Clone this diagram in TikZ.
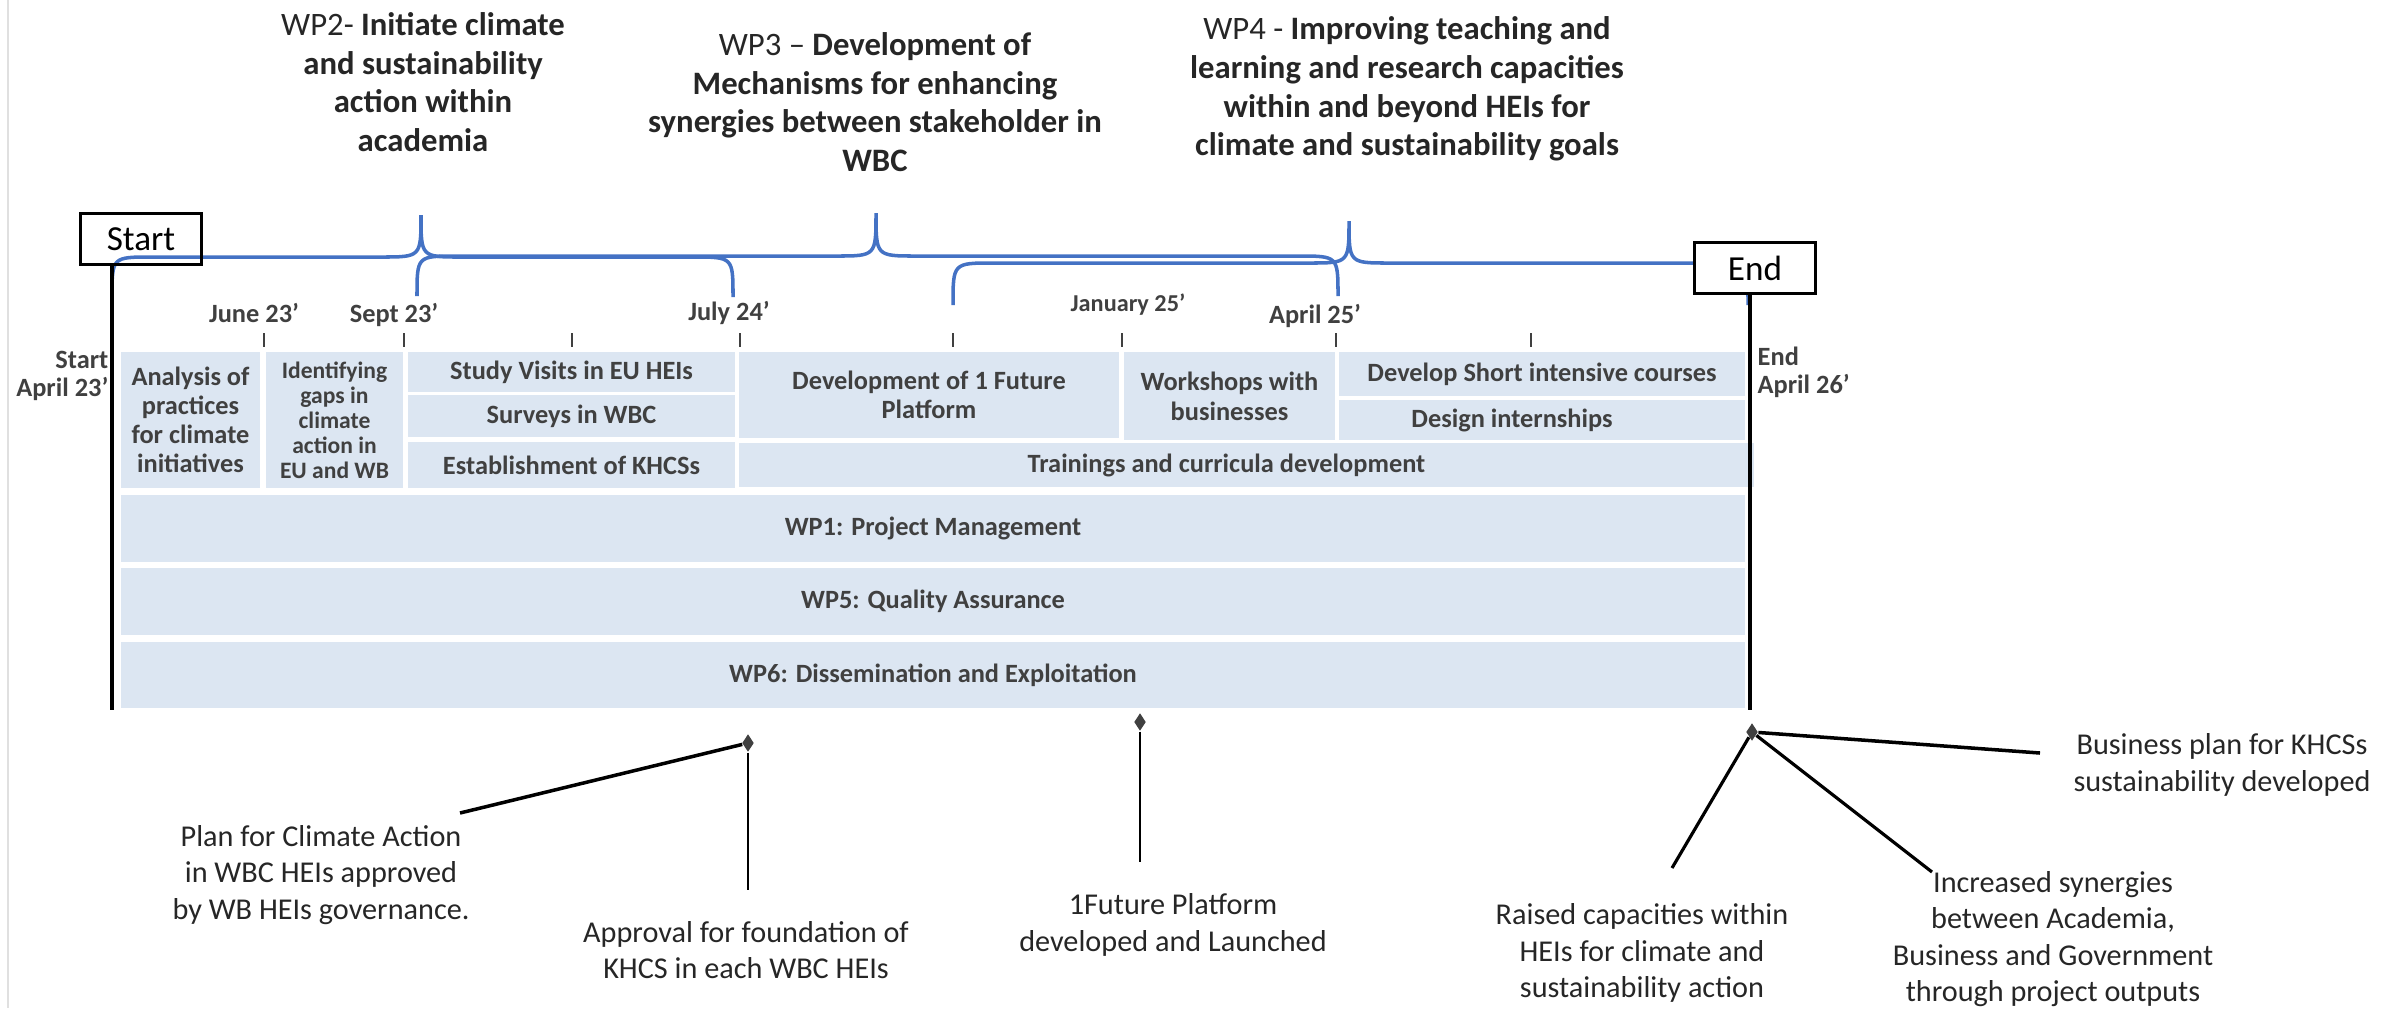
\documentclass[tikz,border=0pt]{standalone}
\usepackage{fontspec}
\setmainfont{Carlito}
\usepackage{tikz}
\usetikzlibrary{shapes.geometric}
\definecolor{taskblue}{HTML}{DCE6F2}
\definecolor{braceblue}{HTML}{4472C4}
\definecolor{textgray}{HTML}{404040}
\definecolor{titlegray}{HTML}{262626}
\tikzset{
	task/.style={fill=taskblue, inner sep=0pt, align=center, text=textgray, font=\fontsize{7.5}{8.3}\selectfont\bfseries},
	wp title/.style={align=center, text=titlegray, font=\fontsize{9.3}{11}\selectfont},
	date label/.style={text=textgray, inner sep=0pt, font=\fontsize{7.5}{8}\selectfont\bfseries},
	tick mark/.style={draw=textgray, line width=0.6pt},
	brace/.style={draw=braceblue, line width=1pt},
	phase box/.style={draw, line width=1pt, fill=white, font=\fontsize{10}{12}\selectfont, minimum width=1.21cm, minimum height=0.51cm},
	milestone/.style={diamond, fill=textgray, inner sep=0pt, minimum width=0.12cm, minimum height=0.18cm},
	outcome/.style={align=center, text=titlegray, inner sep=0pt, font=\fontsize{8.6}{10.4}\selectfont},
	link/.style={draw=black, line width=0.7pt}
}

\begin{document}
\begin{tikzpicture}[x=0.01cm, y=-0.01cm]
	\useasboundingbox (0,0) rectangle (2394,1008);
	\draw[black!12] (8,0) -- (8,1008);

	\node[wp title] (wptwo) at (423,82) {WP2- \textbf{Initiate climate}\\\textbf{and sustainability}\\\textbf{action within}\\\textbf{academia}};
	\node[wp title] (wpthree) at (875,102) {WP3 – \textbf{Development of}\\\textbf{Mechanisms for enhancing}\\\textbf{synergies between stakeholder in}\\\textbf{WBC}};
	\node[wp title] (wpfour) at (1407,89) {WP4 - \textbf{Improving teaching and}\\\textbf{learning and research capacities}\\\textbf{within and beyond HEIs for}\\\textbf{climate and sustainability goals}};

	\node[task, minimum width=1.39cm, minimum height=1.36cm] (analysis) at (190.5,420) {Analysis of\\practices\\for climate\\initiatives};
	\node[task, minimum width=1.37cm, minimum height=1.36cm, font=\fontsize{6.7}{7.1}\selectfont\bfseries] (gaps) at (334.5,420) {Identifying\\gaps in\\climate\\action in\\EU and WB};
	\node[task, minimum width=3.27cm, minimum height=0.40cm] (visits) at (571.5,372) {Study Visits in EU HEIs};
	\node[task, minimum width=3.27cm, minimum height=0.42cm] (surveys) at (571.5,416) {Surveys in WBC};
	\node[task, minimum width=3.27cm, minimum height=0.46cm] (khcs) at (571.5,465) {Establishment of KHCSs};
	\node[task, minimum width=3.80cm, minimum height=0.86cm] (platform) at (929,395) {Development of 1 Future\\Platform};
	\node[task, minimum width=2.11cm, minimum height=0.88cm, font=\fontsize{7.5}{8.6}\selectfont\bfseries] (workshops) at (1229.5,396) {Workshops with\\businesses};
	\node[task, minimum width=4.06cm, minimum height=0.44cm] (courses) at (1542,374) {Develop Short intensive courses};
	\node[task, minimum width=4.06cm, minimum height=0.40cm] (internships) at (1542,420) {Design internships\hspace{0.6cm}};
	\node[task, minimum width=10.15cm, minimum height=0.44cm] (trainings) at (1246.5,465) {Trainings and curricula development\hspace{0.4cm}};
	\node[task, minimum width=16.24cm, minimum height=0.67cm] (wpone) at (933,528.5) {WP1: Project Management};
	\node[task, minimum width=16.24cm, minimum height=0.67cm] (wpfive) at (933,601.5) {WP5: Quality Assurance};
	\node[task, minimum width=16.24cm, minimum height=0.66cm] (wpsix) at (933,675) {WP6: Dissemination and Exploitation};

	\foreach \x in {264,404,572,740,953,1122,1336,1531}
		\draw[tick mark] (\x,333) -- (\x,347);
	\node[date label] (june) at (254,313) {June 23’};
	\node[date label] (sept) at (394,315) {Sept 23’};
	\node[date label] (july) at (729,313) {July 24’};
	\node[date label, font=\fontsize{6.9}{8}\selectfont\bfseries] (january) at (1128,305) {January 25’};
	\node[date label] (april) at (1315,316) {April 25’};
	\node[date label, anchor=east, align=right] (startdate) at (109,376) {Start\\April 23’};
	\node[date label, anchor=west, align=left] (enddate) at (1757,372) {End\\April 26’};

	\draw[brace] (112,297) .. controls (112,257) .. (152,257) -- (381,257) .. controls (421,257) .. (421,215)
		.. controls (421,257) .. (461,257) -- (693,257) .. controls (733,257) .. (733,297);
	\draw[brace] (417,296) .. controls (417,256) .. (457,256) -- (836,256) .. controls (876,256) .. (876,213)
		.. controls (876,256) .. (916,256) -- (1298,256) .. controls (1338,256) .. (1338,296);
	\draw[brace] (953,305) .. controls (953,263) .. (993,263) -- (1309,263) .. controls (1349,263) .. (1349,221)
		.. controls (1349,263) .. (1389,263) -- (1708,263) .. controls (1748,263) .. (1748,305);

	\node[phase box, fill=none] (start) at (141,239) {Start};
	\node[phase box] (end) at (1755,268) {End};
	\coordinate (startfoot) at (112,710);
	\coordinate (endfoot) at (1750,710);
	\draw[line width=0.9pt] (startfoot |- start.south) -- (startfoot);
	\draw[line width=0.9pt] (endfoot |- end.south) -- (endfoot);

	\node[milestone] (mone) at (748,743) {};
	\node[milestone] (mtwo) at (1140,722) {};
	\node[milestone] (mthree) at (1752,732) {};
	\coordinate (planend) at (460,813);
	\coordinate (approvalend) at (748,890);
	\coordinate (futureend) at (1140,862);
	\coordinate (businessend) at (2040,753);
	\coordinate (raisedend) at (1672,868);
	\coordinate (synergyend) at (1932,872);
	\draw[link, line width=1pt] (mone) -- (planend);
	\draw[link] (mone) -- (approvalend);
	\draw[link] (mtwo) -- (futureend);
	\draw[link, line width=1pt] (mthree) -- (businessend);
	\draw[link, line width=0.9pt] (mthree) -- (raisedend);
	\draw[link, line width=0.9pt] (mthree) -- (synergyend);

	\node[outcome] (plan) at (321,875) {Plan for Climate Action\\in WBC HEIs approved\\by WB HEIs governance.};
	\node[outcome] (approval) at (746,950) {Approval for foundation of\\KHCS in each WBC HEIs};
	\node[outcome] (future) at (1173,925) {1Future Platform\\developed and Launched};
	\node[outcome] (business) at (2222,765) {Business plan for KHCSs\\sustainability developed};
	\node[outcome] (raised) at (1642,953) {Raised capacities within\\HEIs for climate and\\sustainability action};
	\node[outcome] (synergy) at (2053,939) {Increased synergies\\between Academia,\\Business and Government\\through project outputs};
\end{tikzpicture}
\end{document}
